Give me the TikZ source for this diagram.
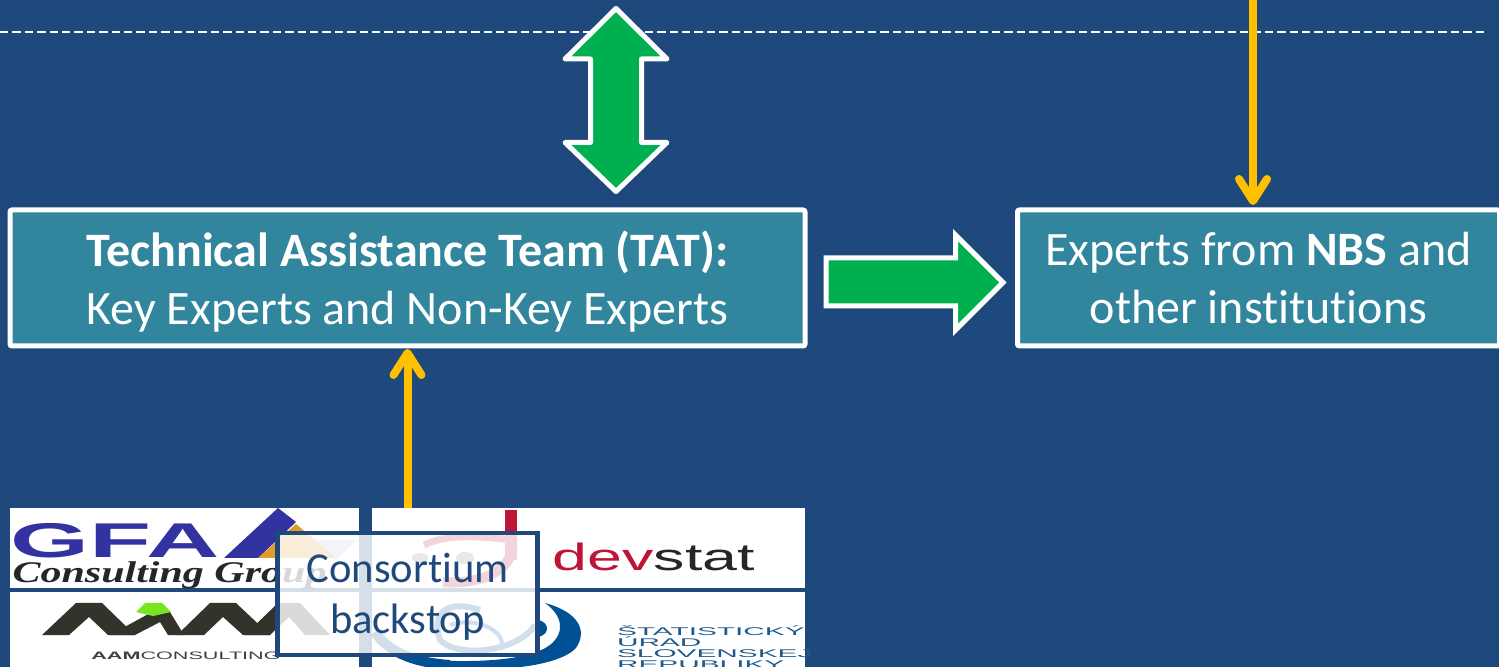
\documentclass[tikz,border=0pt]{standalone}
\usepackage{fontspec}
\setmainfont[Ligatures=NoCommon]{Carlito}
\newfontfamily\logosans{Liberation Sans}
\newfontfamily\logoserif{Liberation Serif}
\usetikzlibrary{arrows.meta}
\definecolor{bgblue}{HTML}{1F497D}
\definecolor{tealbox}{HTML}{31859C}
\definecolor{grn}{HTML}{00B050}
\definecolor{org}{HTML}{FFC000}
\definecolor{gfablue}{RGB}{50,50,160}
\definecolor{gfagold}{RGB}{224,155,40}
\definecolor{aamdark}{RGB}{50,52,44}
\definecolor{aamgreen}{RGB}{120,230,30}
\definecolor{devred}{RGB}{190,20,55}
\definecolor{susrblue}{RGB}{0,80,150}
\definecolor{susrtext}{RGB}{30,90,140}
\tikzset{
  px/.style={x=0.5pt,y=-0.5pt},
  tbox/.style={draw=white,line width=2.5pt,rounded corners=1pt,fill=tealbox,text=white,align=center,font=\fontsize{24}{29}\selectfont,inner sep=0pt,minimum height=68pt},
  blockarrow/.style={draw=white,line width=2.5pt,fill=grn},
  goldarrow/.style={draw=org,line width=4pt,-{Straight Barb[round,length=11pt,width=14pt,line width=4pt]}},
  logobg/.style={fill=white,draw=none},
  overlay/.style={draw=bgblue,line width=2.4pt,fill=white,fill opacity=0.82,text opacity=1,text=bgblue,align=center,font=\fontsize{21.3}{25.5}\selectfont,inner sep=0pt,minimum width=130pt,minimum height=61pt}
}
\begin{document}
\begin{tikzpicture}[px]
\useasboundingbox (0,0) rectangle (1499,667);
\fill[bgblue] (0,0) rectangle (1499,667);
\clip (0,0) rectangle (1499,667);
\draw[white,line width=1pt,dash pattern=on 4.2pt off 2pt] (0,32) -- (1488,32);
% boxes
\node[tbox,minimum width=397.5pt] (tat) at (407.5,278) {\rule{0pt}{21pt}\textbf{Technical Assistance Team (TAT):}\\Key Experts and Non-Key Experts};
\node[tbox,minimum width=241pt] (nbs) at (1258.5,278) {Experts from \textbf{NBS} and\\other institutions};
% green arrows
\draw[blockarrow,line join=round] (616,8.5) -- (667,59) -- (641.5,59) -- (641.5,142.5) -- (667,142.5) -- (616,191.5) -- (565,142.5) -- (590.5,142.5) -- (590.5,59) -- (565,59) -- cycle;
\draw[blockarrow,line join=miter] (826,258) -- (955.5,258) -- (955.5,235) -- (1003,282.5) -- (955.5,330) -- (955.5,306) -- (826,306) -- cycle;
% logo panels
\fill[logobg] (10,508) rectangle (359,588);
\fill[logobg] (10,592) rectangle (359,667);
\fill[logobg] (372,508) rectangle (805,588);
\fill[logobg] (372,592) rectangle (805,667);
% GFA
\node[text=gfablue,font=\logosans\bfseries\fontsize{24.4}{25}\selectfont,inner sep=0pt,anchor=west,xscale=2.08] (gfa) at (10,541) {GFA};
\fill[gfablue] (224,558) -- (278,508) -- (296,522) -- (258,558) -- cycle;
\fill[gfablue!30] (313,540) -- (357,540) -- (336,560) -- cycle;
\fill[gfagold] (258,558) -- (296,524) -- (336,558) -- cycle;
\node[text=black!85,font=\logoserif\bfseries\itshape\fontsize{15}{15}\selectfont,inner sep=0pt,anchor=west,xscale=1.4] (cg) at (12,575) {Consulting Group};
% AAM
\fill[aamdark] (42,635) -- (76,603) -- (102,603) -- (135,635) -- (108,635) -- (89,617) -- (69,635) -- cycle;
\fill[aamdark] (110,635) -- (152,612) -- (170,612) -- (184,635) -- (168,635) -- (160,622) -- (135,635) -- cycle;
\fill[aamdark] (177,635) -- (210,603) -- (236,603) -- (270,635) -- (243,635) -- (223,617) -- (204,635) -- cycle;
\fill[aamgreen] (136,612) -- (145,603) -- (162,603) -- (171,612) -- (153,616) -- cycle;
\fill[aamdark] (245,635) -- (278,603) -- (300,603) -- (330,635) -- (305,635) -- (289,617) -- (270,635) -- cycle;
\node[text=black!75,font=\logosans\fontsize{5.4}{6}\selectfont,inner sep=0pt,xscale=2] (aam) at (186,656) {\textbf{AAM}CONSULTING};
% devstat
\fill[devred] (505,510) rectangle (517,560);
\fill[gray] (420,558) ellipse (8 and 5);
\fill[gray] (465,558) ellipse (9 and 6);
\draw[devred,line width=3.5pt] (424,545) .. controls (445,535) and (470,535) .. (512,540);
\draw[devred,line width=5pt] (512,540) .. controls (516,565) and (490,585) .. (443,582);
\node[font=\logosans\fontsize{19}{19}\selectfont,inner sep=0pt,anchor=west,xscale=1.65] (dev) at (552,557) {\textcolor{devred}{dev}\textcolor{black!85}{stat}};
% susr
\fill[susrblue] (545,603) .. controls (578,612) and (588,630) .. (576,648) .. controls (555,670) and (480,672) .. (430,668) -- (430,660) .. controls (480,663) and (530,660) .. (550,645) .. controls (566,632) and (562,615) .. cycle;
\draw[susrblue,line width=5pt] (375,632) .. controls (390,655) and (420,663) .. (450,665);
\draw[susrblue,line width=3pt] (480,610) .. controls (450,600) and (430,610) .. (440,640) .. controls (460,660) and (520,650) .. (535,625);
\draw[susrblue,line width=2pt] (450,625) .. controls (480,615) and (510,635) .. (500,650);
\fill[susrblue] (538,620) .. controls (550,622) and (550,635) .. (538,637) -- cycle;
\node[text=susrtext,font=\logosans\fontsize{5.6}{5.5}\selectfont,align=left,inner sep=0pt,anchor=north west,xscale=2.66] (susrt) at (616,625) {ŠTATISTICKÝ\\ÚRAD\\SLOVENSKEJ\\REPUBLIKY};
% overlay
\node[overlay] (cons) at (407.5,594) {\rule{0pt}{17.5pt}Consortium\\backstop};
% gold connectors
\coordinate (goldtop) at (1253,0);
\coordinate (goldfoot) at (407.5,508);
\draw[goldarrow] (goldfoot) -- (407.5,349);
\draw[goldarrow] (goldtop) -- (1253,205);
\end{tikzpicture}
\end{document}
